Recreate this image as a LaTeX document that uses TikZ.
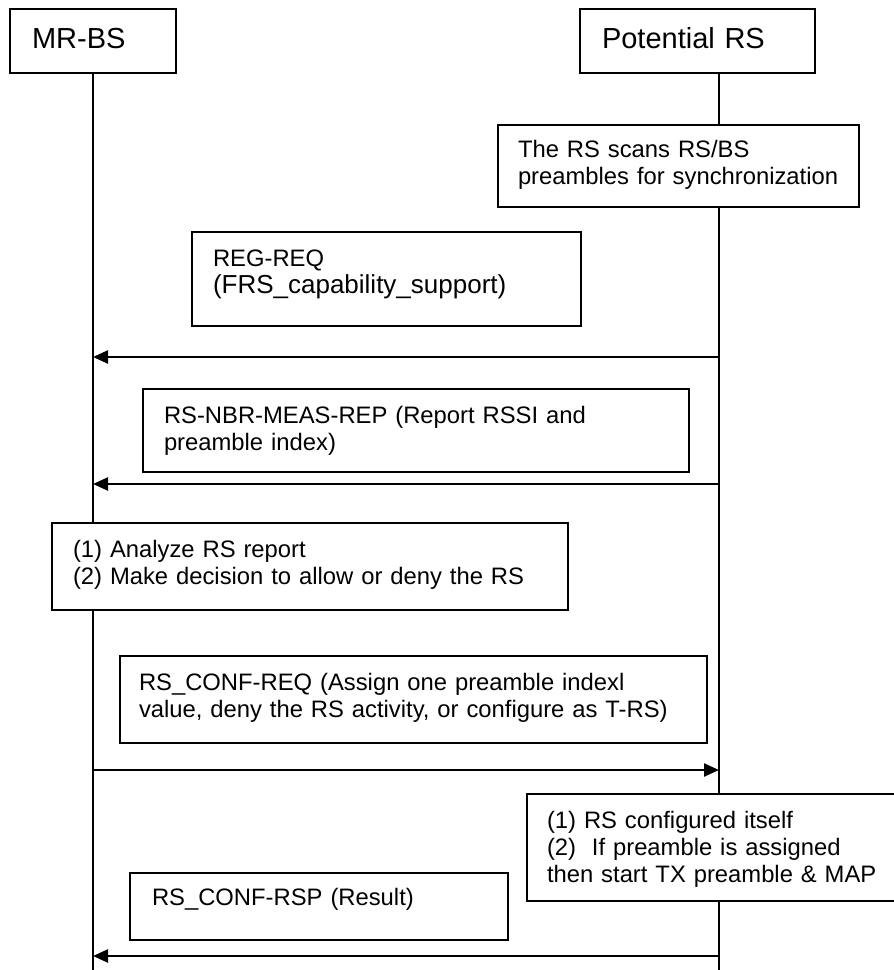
\documentclass[tikz,border=0pt]{standalone}
\usepackage{fontspec}
\setmainfont{Liberation Sans}
\usetikzlibrary{arrows.meta}
\begin{document}
\begin{tikzpicture}[x=1pt,y=-1pt,
	box/.style={draw,line width=1.8pt,fill=white,anchor=north west,outer sep=0pt,align=left,
		inner xsep=21pt,inner ysep=16pt,text height=18pt,font=\fontsize{23.8}{27.3}\selectfont},
	head/.style={box,inner xsep=22pt,inner ysep=17pt,text height=22pt,text depth=8pt,font=\fontsize{29}{33}\selectfont},
	life/.style={line width=1.8pt},
	msg/.style={line width=2.4pt,-{Triangle[length=15pt,width=13pt]}}]
	\useasboundingbox (0,0) rectangle (894,970);
	\node[head,text width=122pt] (bs) at (10,9) {MR-BS};
	\node[head,text width=191pt] (rs) at (580,9) {Potential RS};
	\coordinate (bsend) at (93,970);
	\coordinate (rsend) at (719,970);
	\draw[life] (bs.south) -- (bsend);
	\draw[life] (rs.south -| rsend) -- (rsend);
	\foreach \n/\y in {1/357,2/484,3/770,4/956}{
		\coordinate (bs\n) at (93,\y);
		\coordinate (rs\n) at (719,\y);
	}
	\node[box,inner xsep=20pt,inner ysep=14pt,text width=321pt,text depth=36pt] (scan) at (498,125)
		{The RS scans RS/BS\\preambles for synchronization};
	\node[box,text width=347pt,text depth=44pt] (regreq) at (192,232)
		{REG-REQ\\{\fontsize{26}{27}\selectfont(FRS\_capability\_support)}};
	\draw[msg] (rs1) -- (bs1);
	\node[box,text width=504pt,text depth=33pt] (nbrrep) at (143,389)
		{RS-NBR-MEAS-REP (Report RSSI and\\preamble index)};
	\draw[msg] (rs2) -- (bs2);
	\node[box,text width=474pt,text depth=37pt] (analyze) at (52,523)
		{(1) Analyze RS report\\(2) Make decision to allow or deny the RS};
	\node[box,inner xsep=19pt,text width=549pt,text depth=37pt] (confreq) at (120,656)
		{RS\_CONF-REQ (Assign one preamble indexl\\value, deny the RS activity, or configure as T-RS)};
	\draw[msg] (bs3) -- (rs3);
	\node[box,inner xsep=20pt,text width=345pt,text depth=57pt] (config) at (527,794)
		{(1) RS configured itself\\(2)\ \ If preamble is assigned\\then start TX preamble \& MAP};
	\node[box,inner xsep=22pt,inner ysep=14pt,text width=334pt,text depth=21pt] (confrsp) at (130,873)
		{RS\_CONF-RSP (Result)};
	\draw[msg] (rs4) -- (bs4);
\end{tikzpicture}
\end{document}
